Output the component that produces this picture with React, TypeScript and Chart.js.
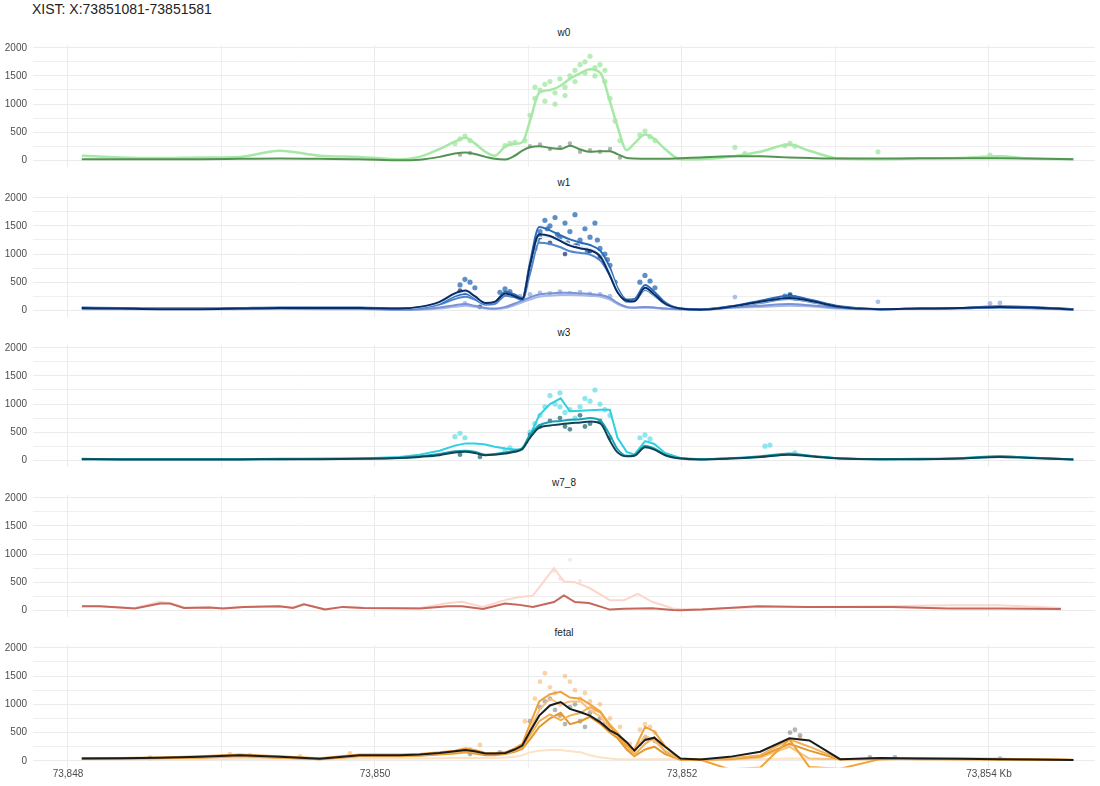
import { useEffect, useRef } from 'react';
import { Chart, registerables } from 'chart.js';

Chart.register(...registerables);

const FONT = '"Liberation Sans", Arial, Helvetica, sans-serif';

const MAIN_TITLE = 'XIST: X:73851081-73851581';
const PANEL_TITLES = ['w0', 'w1', 'w3', 'w7_8', 'fetal'];

const X_MIN = 73847.772;
const X_MAX = 73854.691;
const Y_MIN = -120;
const Y_MAX = 2050;
const X_TICKS = [73848, 73849, 73850, 73851, 73852, 73853, 73854];
const X_TICK_LABELS = ['73,848', '', '73,850', '', '73,852', '', '73,854 Kb'];
const Y_TICKS = [0, 250, 500, 750, 1000, 1250, 1500, 1750, 2000];
const Y_TICK_LABELS = ['0', '', '500', '', '1000', '', '1500', '', '2000'];

// shared genomic positions (kb)
const POS = [73848.09, 73848.34, 73848.60, 73848.86, 73849.12, 73849.38, 73849.64, 73849.90, 73850.16, 73850.29,
  73850.42, 73850.52, 73850.59, 73850.65, 73850.72, 73850.78, 73850.85, 73850.91, 73850.96, 73851.01,
  73851.07, 73851.14, 73851.21, 73851.27, 73851.34, 73851.40, 73851.47, 73851.53, 73851.58, 73851.64,
  73851.69, 73851.76, 73851.82, 73851.89, 73851.99, 73852.12, 73852.31, 73852.51, 73852.70, 73852.83,
  73853.03, 73853.29, 73853.55, 73853.81, 73854.07, 73854.27, 73854.55];

// w0
const W0_LIGHT = [80, 50, 40, 50, 60, 170, 80, 60, 15, 60, 200, 330, 400, 300, 150, 80, 250, 290, 320, 700, 1200, 1250, 1330, 1450, 1550, 1620, 1550, 1050, 600, 180, 300, 460, 380, 200, 20, 20, 60, 150, 280, 170, 30, 20, 30, 40, 70, 30, 20];
const W0_DARK = [20, 20, 20, 20, 25, 30, 25, 20, 0, 10, 60, 120, 140, 110, 60, 25, 15, 80, 170, 230, 250, 220, 200, 260, 190, 150, 160, 160, 110, 40, 30, 25, 25, 25, 35, 50, 70, 70, 50, 40, 30, 30, 35, 35, 35, 30, 20];
const W0_PTS_LIGHT: [number, number][] = [[73850.521, 300], [73850.554, 380], [73850.586, 430], [73850.619, 350], [73850.847, 260], [73850.879, 300], [73850.912, 320],
  [73850.977, 350], [73851.010, 800], [73851.042, 1100], [73851.075, 1250], [73851.107, 1050], [73851.140, 1400], [73851.173, 1200], [73851.205, 1450], [73851.238, 1300], [73851.270, 1500], [73851.303, 1600], [73851.336, 1700], [73851.368, 1550], [73851.401, 1850], [73851.433, 1650], [73851.466, 1700], [73851.498, 1400], [73851.531, 1100], [73851.564, 700], [73851.596, 350],
  [73851.042, 1300], [73851.107, 1350], [73851.173, 1000], [73851.238, 1150], [73851.303, 1400], [73851.368, 1750], [73851.433, 1500], [73851.498, 1600],
  [73851.726, 450], [73851.759, 520], [73851.792, 420], [73851.824, 350], [73852.410, 120], [73852.671, 260], [73852.704, 300], [73852.736, 250], [73852.345, 230], [73853.277, 150], [73854.007, 90]];
const W0_PTS_DARK: [number, number][] = [[73850.554, 100], [73850.619, 130], [73851.010, 250], [73851.075, 280], [73851.140, 200], [73851.205, 230], [73851.270, 300], [73851.336, 150], [73851.401, 180], [73851.466, 150], [73851.531, 200], [73851.596, 50]];

// w1
const W1_NAVY = [40, 30, 20, 20, 30, 40, 40, 40, 30, 60, 150, 300, 350, 250, 130, 150, 300, 250, 200, 800, 1350, 1320, 1230, 1150, 1100, 1070, 950, 620, 320, 170, 160, 400, 280, 120, 30, 10, 60, 150, 220, 170, 60, 20, 30, 40, 60, 50, 15];
const W1_BLUE = [50, 40, 30, 30, 40, 50, 50, 50, 30, 50, 120, 250, 290, 220, 120, 140, 330, 280, 220, 850, 1480, 1420, 1330, 1260, 1200, 1160, 1050, 760, 400, 190, 200, 450, 330, 140, 30, 15, 70, 170, 260, 190, 70, 20, 30, 40, 70, 60, 20];
const W1_MID = [30, 30, 25, 25, 30, 35, 35, 35, 25, 40, 100, 200, 240, 190, 100, 110, 260, 230, 180, 650, 1200, 1180, 1120, 1050, 1020, 990, 880, 620, 340, 150, 160, 360, 260, 110, 25, 10, 50, 130, 200, 150, 50, 20, 25, 35, 50, 40, 15];
const W1_PALE = [40, 30, 20, 20, 30, 40, 40, 40, 30, 50, 130, 270, 320, 230, 120, 140, 300, 250, 200, 780, 1300, 1300, 1250, 1180, 1130, 1100, 980, 700, 360, 170, 170, 380, 270, 120, 30, 10, 60, 140, 210, 160, 60, 20, 30, 40, 60, 50, 15];
const W1_LAV = [30, 30, 25, 25, 30, 35, 30, 30, 10, 20, 50, 90, 110, 80, 40, 30, 60, 120, 170, 230, 280, 300, 310, 310, 300, 290, 270, 220, 130, 60, 50, 60, 50, 30, 20, 20, 50, 80, 110, 90, 40, 20, 30, 40, 60, 40, 20];
const W1_LAV2 = [20, 20, 20, 20, 20, 25, 20, 20, 5, 10, 30, 60, 80, 60, 30, 20, 40, 90, 140, 190, 240, 260, 270, 270, 265, 255, 240, 190, 110, 50, 40, 45, 40, 25, 15, 15, 40, 60, 80, 70, 30, 15, 25, 30, 50, 30, 15];
const W1_PTS_BLUE: [number, number][] = [[73851.042, 1100], [73851.075, 1400], [73851.107, 1600], [73851.140, 1500], [73851.173, 1650], [73851.205, 1300], [73851.238, 1550], [73851.270, 1400], [73851.303, 1700], [73851.336, 1250], [73851.368, 1450], [73851.401, 1300], [73851.433, 1550], [73851.466, 1100], [73851.498, 1000], [73851.531, 800], [73851.564, 500],
  [73851.058, 1250], [73851.123, 1450], [73851.189, 1350], [73851.254, 1200], [73851.319, 1150], [73851.384, 1050], [73851.449, 1250], [73851.514, 900],
  [73850.554, 450], [73850.586, 550], [73850.619, 500], [73850.651, 400], [73850.814, 320], [73850.847, 380], [73850.879, 330], [73851.726, 500], [73851.759, 620], [73851.792, 520], [73851.824, 400], [73852.671, 250], [73852.704, 280], [73852.736, 220]];
const W1_PTS_NAVY: [number, number][] = [[73851.075, 1300], [73851.140, 1200], [73851.238, 1000], [73851.303, 1150], [73851.401, 1050], [73851.466, 950], [73850.554, 350], [73850.684, 60], [73852.704, 260]];
const W1_PTS_LAV: [number, number][] = [[73850.945, 250], [73851.010, 280], [73851.075, 310], [73851.140, 300], [73851.205, 330], [73851.270, 300], [73851.336, 320], [73851.401, 290], [73851.466, 280], [73851.531, 250], [73850.586, 120], [73852.345, 235], [73853.277, 150], [73854.007, 120], [73854.072, 130]];

// w3
const W3_CYAN = [20, 20, 20, 20, 20, 20, 25, 30, 60, 100, 170, 260, 300, 300, 280, 240, 210, 190, 190, 450, 800, 1000, 1100, 870, 880, 890, 900, 900, 400, 150, 100, 340, 290, 130, 40, 20, 30, 60, 110, 80, 30, 20, 20, 30, 70, 50, 15];
const W3_TEAL = [25, 20, 20, 20, 20, 25, 25, 30, 45, 70, 110, 160, 170, 150, 100, 110, 140, 170, 220, 450, 620, 680, 700, 720, 730, 750, 700, 450, 200, 80, 90, 260, 210, 100, 35, 20, 35, 70, 120, 80, 35, 20, 25, 35, 70, 45, 15];
const W3_DARK = [20, 15, 15, 15, 15, 20, 20, 25, 40, 60, 90, 140, 150, 130, 90, 100, 120, 150, 200, 400, 580, 620, 640, 660, 670, 690, 650, 350, 140, 70, 80, 230, 190, 90, 30, 15, 30, 60, 100, 70, 30, 20, 20, 30, 60, 40, 15];
const W3_PTS_CYAN: [number, number][] = [[73850.521, 420], [73850.554, 480], [73850.586, 400], [73850.847, 180], [73850.879, 220], [73851.010, 500], [73851.075, 800], [73851.107, 950], [73851.140, 1150], [73851.173, 1000], [73851.205, 1200], [73851.238, 850], [73851.270, 900], [73851.336, 950], [73851.368, 1100], [73851.401, 1050], [73851.433, 1250], [73851.466, 1000], [73851.498, 900], [73851.531, 800], [73851.726, 400], [73851.759, 450], [73851.792, 380], [73852.541, 250], [73852.573, 270], [73852.736, 130], [73851.042, 650], [73851.303, 750], [73851.205, 950]];
const W3_PTS_DARK: [number, number][] = [[73851.010, 450], [73851.075, 600], [73851.140, 700], [73851.205, 750], [73851.270, 550], [73851.336, 800], [73851.401, 650], [73851.466, 700], [73851.531, 400], [73850.554, 100], [73850.684, 60], [73851.238, 600], [73851.368, 600]];

// w7_8
const W78_POS = [73848.091, 73848.208, 73848.339, 73848.436, 73848.599, 73848.664, 73848.756, 73848.919, 73849.010, 73849.147,
  73849.375, 73849.466, 73849.537, 73849.674, 73849.792, 73849.928, 73850.293, 73850.476, 73850.567, 73850.704,
  73850.847, 73850.932, 73851.029, 73851.166, 73851.231, 73851.303, 73851.394, 73851.531, 73851.622, 73851.713,
  73851.805, 73851.941, 73851.987, 73852.130, 73852.495, 73852.814, 73853.368, 73853.733, 73854.072, 73854.469];
const W78_DARK = [70, 70, 47, 30, 118, 118, 40, 47, 30, 60, 70, 40, 106, 12, 60, 40, 30, 70, 70, 24, 118, 100, 60, 147, 265, 147, 130, 12, 25, 32, 35, 5, 0, 12, 70, 60, 60, 30, 30, 24];
const W78_LIGHT = [70, 70, 50, 40, 150, 130, 50, 50, 40, 60, 70, 50, 110, 20, 60, 40, 40, 130, 150, 60, 180, 230, 260, 750, 510, 500, 400, 180, 180, 290, 150, 30, 20, 20, 60, 60, 70, 90, 90, 40];
const W78_PTS: [number, number][] = [[73851.166, 700], [73851.270, 900], [73851.205, 560], [73851.336, 520]];

// fetal
const FETAL_BLACK = [40, 45, 55, 70, 100, 70, 35, 100, 100, 110, 140, 170, 190, 170, 130, 130, 140, 200, 270, 520, 800, 980, 1040, 920, 860, 800, 680, 540, 470, 330, 180, 370, 410, 250, 40, 25, 70, 160, 400, 360, 30, 50, 40, 35, 30, 25, 15];
const FETAL_OR1 = [50, 50, 60, 80, 110, 80, 45, 110, 110, 120, 150, 180, 220, 190, 140, 140, 150, 220, 300, 650, 1050, 1180, 1220, 1120, 1100, 1000, 870, 620, 460, 260, 200, 600, 520, 260, 30, 20, -150, -120, 380, -110, -140, 30, 45, 40, 35, 30, 20];
const FETAL_OR2 = [40, 40, 50, 60, 90, 60, 30, 90, 90, 100, 130, 150, 170, 150, 120, 120, 130, 180, 240, 450, 700, 820, 720, 800, 850, 950, 850, 650, 500, 300, 100, 300, 420, 160, 30, 30, 40, 100, 380, 250, 30, 40, 35, 30, 30, 25, 15];
const FETAL_OR3 = [35, 35, 45, 55, 80, 55, 30, 80, 80, 90, 110, 130, 150, 130, 100, 100, 120, 160, 210, 380, 600, 750, 850, 650, 700, 780, 650, 500, 400, 200, 80, 200, 250, 120, 20, 20, 30, 80, 300, 180, 25, 35, 30, 30, 25, 20, 15];
const FETAL_OR4 = [45, 45, 55, 70, 95, 70, 40, 95, 95, 105, 130, 160, 200, 170, 130, 130, 140, 190, 260, 550, 900, 1100, 1000, 1050, 1050, 900, 780, 560, 420, 220, 150, 450, 350, 180, 25, 20, 20, 60, 250, 40, 30, 25, 35, 30, 30, 25, 15];
const FETAL_PEACH = [30, 30, 30, 30, 35, 35, 30, 35, 40, 40, 45, 50, 55, 50, 50, 50, 60, 70, 100, 150, 180, 190, 190, 170, 150, 100, 60, 40, 30, 30, 30, 30, 30, 30, 30, 30, 30, 30, 40, 35, 30, 30, 30, 30, 30, 25, 20];
const FETAL_PTS_GRAY: [number, number][] = [[73851.010, 700], [73851.075, 950], [73851.107, 1050], [73851.140, 1100], [73851.173, 900], [73851.205, 800], [73851.238, 650], [73851.270, 950], [73851.303, 1000], [73851.336, 700], [73851.368, 600], [73851.401, 850], [73851.466, 750], [73851.498, 650], [73851.564, 500], [73851.726, 300], [73851.759, 400], [73851.824, 350], [73851.857, 300], [73852.704, 500], [73852.736, 550], [73852.769, 450], [73850.619, 120], [73850.814, 150], [73849.003, 80], [73848.534, 50], [73853.225, 60], [73853.388, 60], [73854.072, 40]];
const FETAL_PTS_ORANGE: [number, number][] = [[73850.977, 700], [73851.042, 1100], [73851.075, 1400], [73851.107, 1550], [73851.140, 1300], [73851.173, 1200], [73851.205, 1000], [73851.238, 1500], [73851.270, 1400], [73851.303, 1250], [73851.336, 1100], [73851.368, 1200], [73851.401, 1050], [73851.433, 900], [73851.466, 1000], [73851.531, 750], [73851.596, 600], [73851.661, 300], [73851.726, 550], [73851.759, 650], [73851.792, 600], [73851.824, 500], [73852.704, 300], [73852.769, 400], [73850.619, 200], [73850.684, 280], [73849.055, 120], [73849.186, 100], [73849.511, 80], [73849.837, 130]];

interface LineSpec { pos: number[]; vals: number[]; color: string; width: number; smooth: boolean }
interface PtSpec { pts: [number, number][]; color: string; r: number }
interface PanelSpec { lines: LineSpec[]; points: PtSpec[] }

const L = (vals: number[], color: string, width: number, smooth: boolean, pos: number[] = POS): LineSpec => ({ pos, vals, color, width, smooth });

const PANELS: PanelSpec[] = [
  {
    lines: [L(W0_DARK, '#539453', 2, true), L(W0_LIGHT, '#a6e8a6', 2.5, true)],
    points: [{ pts: W0_PTS_DARK, color: 'rgba(110,120,110,0.55)', r: 2.2 }, { pts: W0_PTS_LIGHT, color: 'rgba(160,230,160,0.75)', r: 2.6 }],
  },
  {
    lines: [L(W1_NAVY, '#0a2c66', 2, true), L(W1_PALE, '#dfe9f6', 1.5, true), L(W1_BLUE, '#2a6cb7', 2, true), L(W1_MID, '#4f86cc', 2, true), L(W1_LAV, '#7a93d6', 2, true), L(W1_LAV2, '#a9b9ea', 2, true)],
    points: [{ pts: W1_PTS_NAVY, color: 'rgba(12,50,110,0.7)', r: 2.4 }, { pts: W1_PTS_BLUE, color: 'rgba(40,105,180,0.75)', r: 2.6 }, { pts: W1_PTS_LAV, color: 'rgba(140,165,225,0.7)', r: 2.4 }],
  },
  {
    lines: [L(W3_DARK, '#0f4552', 2, true), L(W3_TEAL, '#1aa1b6', 2, true), L(W3_CYAN, '#30d0e0', 2, false)],
    points: [{ pts: W3_PTS_DARK, color: 'rgba(25,95,110,0.7)', r: 2.4 }, { pts: W3_PTS_CYAN, color: 'rgba(95,220,232,0.7)', r: 2.6 }],
  },
  {
    lines: [L(W78_DARK, '#c5675b', 2, false, W78_POS), L(W78_LIGHT, '#fcd6cd', 2, false, W78_POS)],
    points: [{ pts: W78_PTS, color: 'rgba(249,205,196,0.5)', r: 2 }],
  },
  {
    lines: [L(FETAL_BLACK, '#1b1b1b', 2, false), L(FETAL_OR1, '#efa23a', 2, false), L(FETAL_OR2, '#f2b155', 2, false), L(FETAL_OR3, '#e5972c', 2, false), L(FETAL_OR4, '#f6c27e', 2, false), L(FETAL_PEACH, '#fde2c4', 2, false)],
    points: [{ pts: FETAL_PTS_GRAY, color: 'rgba(120,120,120,0.55)', r: 2.4 }, { pts: FETAL_PTS_ORANGE, color: 'rgba(245,177,94,0.55)', r: 2.4 }],
  },
];

const PANEL_STEP = 150;
const CANVAS_TOP = 41;

function Panel({ spec, last }: { spec: PanelSpec; last: boolean }) {
  const ref = useRef<HTMLCanvasElement | null>(null);
  useEffect(() => {
    if (!ref.current) return;
    const datasets: any[] = [
      ...spec.lines.map((l) => ({
        type: 'line',
        data: l.pos.map((x, i) => ({ x, y: l.vals[i] })),
        borderColor: l.color,
        borderWidth: l.width,
        pointRadius: 0,
        fill: false,
        showLine: true,
        tension: 0,
        cubicInterpolationMode: l.smooth ? 'monotone' : 'default',
        order: 0,
      })),
      ...spec.points.map((p) => ({
        type: 'scatter',
        data: p.pts.map(([x, y]) => ({ x, y })),
        backgroundColor: p.color,
        borderWidth: 0,
        pointRadius: p.r,
        showLine: false,
        order: 1,
      })),
    ];
    const chart = new Chart(ref.current, {
      type: 'scatter',
      data: { datasets },
      options: {
        animation: false,
        responsive: false,
        layout: { padding: { top: 4, right: 5, bottom: last ? 0 : 3.4, left: 0 } },
        plugins: { legend: { display: false }, tooltip: { enabled: false }, title: { display: false } },
        scales: {
          x: {
            type: 'linear',
            min: X_MIN,
            max: X_MAX,
            afterBuildTicks: (s: any) => { s.ticks = X_TICKS.map((v) => ({ value: v })); },
            afterFit: (s: any) => {
              s.height = last ? 18.4 : 0;
              s.paddingLeft = 0; s.paddingRight = 0; s.paddingTop = 0; s.paddingBottom = 0;
            },
            grid: { color: '#ebebeb', lineWidth: (ctx: any) => (ctx.tick && ctx.tick.value % 2 === 0 ? 1 : 0.8), drawTicks: false },
            border: { display: false },
            ticks: {
              display: last,
              autoSkip: false,
              maxRotation: 0,
              padding: 1,
              font: { family: FONT, size: 10 },
              color: '#4d4d4d',
              callback: (_v: any, i: number) => X_TICK_LABELS[i],
            },
          },
          y: {
            type: 'linear',
            min: Y_MIN,
            max: Y_MAX,
            afterBuildTicks: (s: any) => { s.ticks = Y_TICKS.map((v) => ({ value: v })); },
            afterFit: (s: any) => {
              s.width = 33;
              s.paddingLeft = 0; s.paddingRight = 0; s.paddingTop = 0; s.paddingBottom = 0;
            },
            grid: { color: '#ebebeb', lineWidth: (ctx: any) => (ctx.tick && ctx.tick.value % 500 === 0 ? 1 : 0.8), drawTicks: false },
            border: { display: false },
            ticks: {
              autoSkip: false,
              padding: 6,
              font: { family: FONT, size: 10 },
              color: '#4d4d4d',
              callback: (_v: any, i: number) => Y_TICK_LABELS[i],
            },
          },
        },
      } as any,
    });
    return () => chart.destroy();
  }, [spec, last]);
  const h = last ? 145 : 130;
  return <canvas ref={ref} width={1100} height={h} style={{ width: 1100, height: h, display: 'block' }} />;
}

export default function App() {
  useEffect(() => {
    document.body.style.margin = '0';
    document.body.style.background = '#ffffff';
  }, []);
  return (
    <div style={{ position: 'relative', width: 1100, height: 786, overflow: 'hidden', background: '#fff', fontFamily: FONT }}>
      <div style={{ position: 'absolute', left: 32, top: 1, fontSize: 14, lineHeight: '16px', color: '#222' }}>{MAIN_TITLE}</div>
      {PANELS.map((p, i) => (
        <div key={i}>
          <div style={{ position: 'absolute', left: 0, top: CANVAS_TOP + i * PANEL_STEP }}>
            <Panel spec={p} last={i === PANELS.length - 1} />
          </div>
          <div style={{ position: 'absolute', left: 33, width: 1062, top: 27 + i * PANEL_STEP, textAlign: 'center', fontSize: 10, lineHeight: '12px', color: '#1a1a1a' }}>
            {PANEL_TITLES[i]}
          </div>
        </div>
      ))}
    </div>
  );
}
